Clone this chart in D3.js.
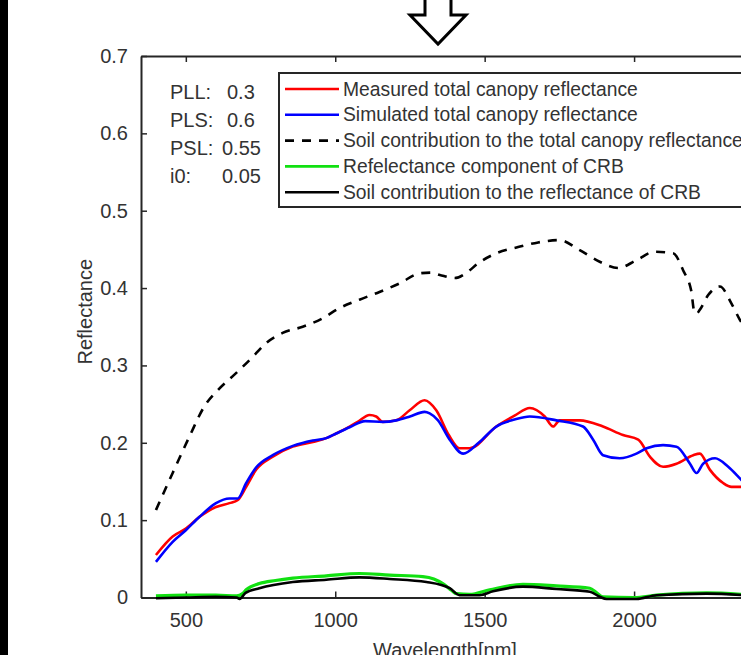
<!DOCTYPE html>
<html lang="en">
<head>
<meta charset="utf-8">
<title>Canopy reflectance</title>
<script src="https://cdn.jsdelivr.net/npm/d3@7/dist/d3.min.js"></script>
<style>
  body { margin: 0; background: #fff; }
  svg { display: block; overflow: hidden; }
  text { font-family: "Liberation Sans", Arial, Helvetica, sans-serif; fill: #333; }
</style>
</head>
<body>
<div id="chart"></div>
<script>
// ---- data ----
var xTicks = [500, 1000, 1500, 2000, 2500];
var yTicks = [0, 0.1, 0.2, 0.3, 0.4, 0.5, 0.6, 0.7];

var measNm = [400,456,500,545,601,646,674,702,735,791,858,925,970,1003,1048,1075,1115,1137,1159,1204,1249,1299,1338,1380,1416,1450,1539,1600,1651,1701,1729,1751,1818,1896,1963,2014,2053,2097,2142,2198,2220,2254,2298,2326,2400];
var measured = [0.055,0.079,0.089,0.104,0.117,0.122,0.126,0.143,0.165,0.182,0.195,0.201,0.206,0.212,0.221,0.227,0.236,0.234,0.227,0.229,0.242,0.255,0.242,0.210,0.193,0.193,0.221,0.235,0.245,0.234,0.221,0.229,0.229,0.221,0.210,0.204,0.182,0.169,0.173,0.184,0.186,0.165,0.148,0.143,0.143];

var simNm = [400,456,500,545,601,646,674,702,735,791,858,925,970,1003,1048,1100,1159,1204,1250,1299,1316,1344,1383,1428,1480,1539,1600,1651,1740,1829,1863,1896,1952,2008,2042,2097,2142,2187,2209,2231,2271,2315,2354,2400];
var simulated = [0.046,0.072,0.087,0.104,0.122,0.128,0.128,0.148,0.168,0.184,0.196,0.203,0.206,0.212,0.220,0.228,0.227,0.229,0.234,0.240,0.238,0.229,0.204,0.186,0.200,0.221,0.230,0.234,0.229,0.221,0.204,0.184,0.180,0.186,0.193,0.197,0.195,0.173,0.161,0.173,0.180,0.169,0.154,0.135];

var soilNm = [400,456,512,562,607,668,724,769,824,891,958,1014,1081,1148,1215,1282,1320,1350,1400,1440,1478,1539,1612,1679,1751,1818,1885,1947,2008,2069,2131,2164,2192,2200,2209,2220,2248,2287,2326,2354,2400];
var soilTotal = [0.113,0.161,0.208,0.247,0.268,0.290,0.311,0.329,0.342,0.350,0.361,0.374,0.385,0.395,0.406,0.419,0.420,0.417,0.413,0.420,0.432,0.445,0.453,0.459,0.462,0.449,0.434,0.426,0.436,0.447,0.445,0.423,0.395,0.372,0.367,0.372,0.391,0.402,0.380,0.359,0.335];

var crbNm = [400,500,600,670,690,702,746,800,858,970,1081,1182,1293,1330,1360,1390,1405,1450,1517,1628,1740,1852,1875,1895,2000,2075,2243,2400];
var crbRefl = [0.002,0.003,0.003,0.002,0.005,0.010,0.018,0.022,0.025,0.028,0.031,0.029,0.027,0.024,0.018,0.009,0.005,0.004,0.010,0.017,0.015,0.012,0.006,0.001,0.000,0.003,0.006,0.003];

var crbSoilNm = [400,500,600,670,680,700,746,858,970,1081,1182,1305,1383,1416,1483,1528,1628,1740,1852,1885,1908,2008,2075,2243,2400];
var crbSoil = [-0.001,0.000,0.001,0.000,-0.002,0.006,0.012,0.020,0.023,0.026,0.024,0.020,0.012,0.003,0.003,0.008,0.014,0.011,0.0075,0.001,-0.002,-0.002,0.003,0.005,0.002];

var legendLabels = ["Measured total canopy reflectance",
                    "Simulated total canopy reflectance",
                    "Soil contribution to the total canopy reflectance",
                    "Refelectance component of CRB",
                    "Soil contribution to the reflectance of CRB"];
var paramNames = ["PLL:", "PLS:", "PSL:", "i0:"];
var paramValues = ["0.3", "0.6", "0.55", "0.05"];

// ---- layout ----
var svgWidth = 741, svgHeight = 655,
    plotLeft = 141, plotTop = 56, plotRight = 783.5, plotBottom = 597.5;

var svg = d3.select("#chart").append("svg")
    .attr("width", svgWidth)
    .attr("height", svgHeight);

svg.append("rect").attr("width", svgWidth).attr("height", svgHeight).attr("fill", "#fff");

// black strip on the left edge
svg.append("rect").attr("x", 0).attr("y", 0).attr("width", 8).attr("height", svgHeight).attr("fill", "#000");

// hollow arrow at the top
var ax = 438;
svg.append("path")
    .attr("d", "M" + (ax - 13) + ",-2 L" + (ax - 13) + ",15 L" + (ax - 28) + ",15 L" + ax + ",44 L" + (ax + 28) + ",15 L" + (ax + 13) + ",15 L" + (ax + 13) + ",-2")
    .attr("fill", "#fff")
    .attr("stroke", "#000")
    .attr("stroke-width", 3)
    .attr("stroke-linejoin", "miter");

var x = d3.scaleLinear().domain([350, 2500]).range([plotLeft, plotRight]);
var y = d3.scaleLinear().domain([0, 0.7]).range([plotBottom, plotTop]);

var tickLen = 6;

function styleAxis(g) {
    g.select(".domain").attr("stroke", "#262626").attr("stroke-width", 2);
    g.selectAll(".tick line").attr("stroke", "#262626").attr("stroke-width", 1.5);
    g.selectAll(".tick text").attr("font-size", 20).attr("fill", "#3a3a3a")
        .attr("font-family", "Liberation Sans, Arial, sans-serif");
}

// axes (MATLAB style, ticks pointing inward)
svg.append("g")
    .attr("transform", "translate(0," + plotBottom + ")")
    .call(d3.axisBottom(x).tickValues(xTicks).tickSizeInner(-tickLen).tickSizeOuter(0).tickPadding(15).tickFormat(d3.format("d")))
    .call(styleAxis);

svg.append("g")
    .attr("transform", "translate(0," + plotTop + ")")
    .call(d3.axisTop(x).tickValues(xTicks).tickSizeInner(-tickLen).tickSizeOuter(0).tickFormat(""))
    .call(styleAxis);

svg.append("g")
    .attr("transform", "translate(" + plotLeft + ",0)")
    .call(d3.axisLeft(y).tickValues(yTicks).tickSizeInner(-tickLen).tickSizeOuter(0).tickPadding(13)
        .tickFormat(function(d) { return d === 0 ? "0" : d3.format(".1f")(d); }))
    .call(styleAxis);

// axis titles
svg.append("text")
    .attr("transform", "translate(85," + ((plotTop + plotBottom) / 2 - 15) + ") rotate(-90)")
    .attr("text-anchor", "middle")
    .attr("dominant-baseline", "central")
    .attr("font-size", 20)
    .text("Reflectance");

svg.append("text")
    .attr("x", 445)
    .attr("y", 657)
    .attr("text-anchor", "middle")
    .attr("font-size", 20)
    .text("Wavelength[nm]");

// curves
var series = [
    { nm: measNm,    v: measured,  color: "#ff0000", dash: null },
    { nm: simNm,     v: simulated, color: "#0000ff", dash: null },
    { nm: soilNm,    v: soilTotal, color: "#000000", dash: "9,8" },
    { nm: crbNm,     v: crbRefl,   color: "#11e011", dash: null },
    { nm: crbSoilNm, v: crbSoil,   color: "#000000", dash: null }
];

var line = d3.line()
    .x(function(d) { return x(d[0]); })
    .y(function(d) { return y(d[1]); })
    .curve(d3.curveMonotoneX);

svg.append("g").selectAll("path")
    .data(series)
    .enter()
    .append("path")
    .attr("d", function(s) { return line(d3.zip(s.nm, s.v)); })
    .attr("fill", "none")
    .attr("stroke", function(s) { return s.color; })
    .attr("stroke-width", function(s, i) { return i === 3 ? 3.2 : 2.6; })
    .attr("stroke-dasharray", function(s) { return s.dash; })
    .attr("stroke-linejoin", "round");

// parameter text block
var params = svg.append("g");
var valueX = [227, 227, 222, 222];
paramNames.forEach(function(p, i) {
    params.append("text")
        .attr("x", 170).attr("y", 92 + i * 28)
        .attr("dominant-baseline", "central")
        .attr("font-size", 20)
        .text(p);
    params.append("text")
        .attr("x", valueX[i]).attr("y", 92 + i * 28)
        .attr("dominant-baseline", "central")
        .attr("font-size", 20)
        .text(paramValues[i]);
});

// legend
var leg = svg.append("g").attr("transform", "translate(279,73)");
leg.append("rect")
    .attr("width", 490).attr("height", 134)
    .attr("fill", "#fff")
    .attr("stroke", "#262626")
    .attr("stroke-width", 2);

var entries = leg.selectAll("g.entry")
    .data(series)
    .enter()
    .append("g")
    .attr("class", "entry")
    .attr("transform", function(d, i) { return "translate(0," + (16 + i * 25.8) + ")"; });

entries.append("line")
    .attr("x1", 6).attr("x2", 60)
    .attr("stroke", function(s) { return s.color; })
    .attr("stroke-width", 2.6)
    .attr("stroke-dasharray", function(s) { return s.dash; });

entries.append("text")
    .attr("x", 64)
    .attr("dominant-baseline", "central")
    .attr("font-size", 19.3)
    .text(function(d, i) { return legendLabels[i]; });
</script>
</body>
</html>
